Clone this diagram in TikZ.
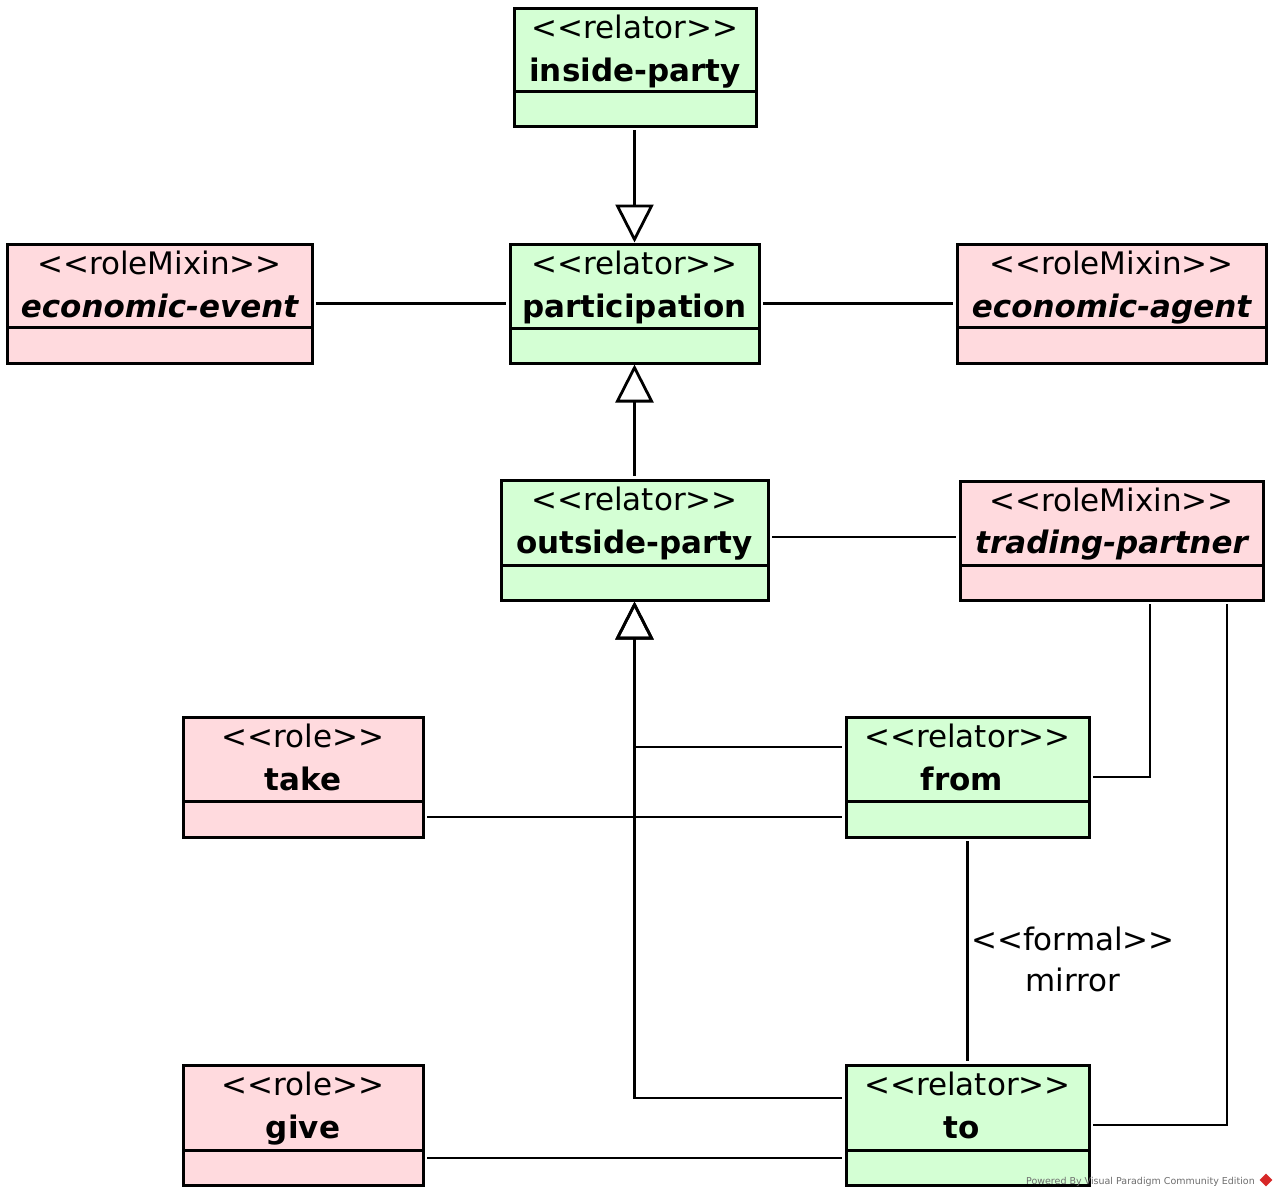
\documentclass[tikz,border=0pt]{standalone}
\usepackage{fontspec}
\setmainfont{DejaVu Sans}
\usetikzlibrary{arrows.meta,shapes.geometric}

\definecolor{relatorfill}{RGB}{212,255,212}
\definecolor{rolefill}{RGB}{255,218,222}
\definecolor{vpgray}{RGB}{110,110,110}
\definecolor{vpred}{RGB}{215,40,40}

% guillemet-style stereotype text built from angle brackets
\newcommand{\ster}[1]{<\kern0pt<#1>\kern0pt>}

\tikzset{
  classbox/.style={draw, line width=3pt, inner sep=0pt, outer sep=0pt, anchor=north west},
  relatorbox/.style={classbox, fill=relatorfill},
  rolebox/.style={classbox, fill=rolefill},
  stereotxt/.style={anchor=base, inner sep=0pt, font=\fontsize{31}{37}\selectfont},
  nametxt/.style={anchor=base, inner sep=0pt, font=\fontsize{31}{37}\selectfont\bfseries},
  mixintxt/.style={nametxt, font=\fontsize{31}{37}\selectfont\bfseries\itshape},
  link/.style={line width=2.8pt, shorten <=4pt, shorten >=4pt},
  genlink/.style={line width=2.8pt, shorten <=4pt, shorten >=1.5pt,
    -{Triangle[open, length=38pt, width=38pt, line width=2.8pt]}},
}

% #1 name, #2 box style, #3 x1, #4 y1, #5 x2, #6 y2, #7 divider y, #8 stereotype, #9 title (with its style)
\newcommand{\umlclass}[9]{%
  \node[#2, minimum width={#5-#3}, minimum height={#6-#4}] (#1) at (#3,#4) {};
  \draw[line width=3pt] (#3,#7) -- (#5,#7);
  \node[stereotxt] (#1-st) at ({(#3+#5)/2},{#4+30}) {\ster{#8}};
  \node #9;
}

\begin{document}
\begin{tikzpicture}[x=1pt, y=-1pt]
  \useasboundingbox[fill=white] (0,0) rectangle (1278,1197);

  % classes
  \umlclass{ip}{relatorbox}{514}{8}{756}{126}{91}{relator}
    {[nametxt] (ip-nm) at (635,81) {inside-party}}
  \umlclass{pa}{relatorbox}{510}{244}{759}{363}{328}{relator}
    {[nametxt] (pa-nm) at (634.5,317) {participation}}
  \umlclass{ee}{rolebox}{7}{244}{312}{363}{327}{roleMixin}
    {[mixintxt] (ee-nm) at (159.5,317) {economic-event}}
  \umlclass{ea}{rolebox}{957}{244}{1266}{363}{327}{roleMixin}
    {[mixintxt] (ea-nm) at (1111.5,317) {economic-agent}}
  \umlclass{op}{relatorbox}{501}{480}{768}{600}{565}{relator}
    {[nametxt] (op-nm) at (634.5,553) {outside-party}}
  \umlclass{tp}{rolebox}{960}{481}{1263}{600}{565}{roleMixin}
    {[mixintxt] (tp-nm) at (1111.5,553) {trading-partner}}
  \umlclass{tk}{rolebox}{183}{717}{423}{837}{801}{role}
    {[nametxt] (tk-nm) at (303,790) {take}}
  \umlclass{fr}{relatorbox}{846}{717}{1089}{837}{801}{relator}
    {[nametxt] (fr-nm) at (962,790) {from}}
  \umlclass{gv}{rolebox}{183}{1065}{423}{1185}{1150}{role}
    {[nametxt] (gv-nm) at (303,1138) {give}}
  \umlclass{to}{relatorbox}{846}{1065}{1089}{1185}{1150}{relator}
    {[nametxt] (to-nm) at (962,1138) {to}}

  % generalizations
  \draw[genlink] (pa.north |- ip.south) -- (pa.north);
  \draw[genlink] (op.north) -- (pa.south -| op.north);
  \draw[genlink] ([yshift=30pt]fr.west) -| (op.south);
  \draw[genlink] ([yshift=27pt]to.west) -| (op.south);

  % associations
  \draw[link] (ee.east) -- (pa.west);
  \draw[link] (pa.east) -- (ea.west);
  \draw[link] ([yshift=3pt]op.east) -- ([yshift=3pt]op.east -| tp.west);
  \draw[link] ([yshift=-40pt]tk.east) -- ([yshift=-40pt]fr.west);
  \draw[link] ([yshift=-33pt]gv.east) -- ([yshift=-33pt]to.west);
  \draw[link] (fr.east) -| ([xshift=38.5pt]tp.south);
  \draw[link] (to.east) -| ([xshift=115.5pt]tp.south);
  \draw[link] (fr.south) -- (to.north);

  % formal association label
  \node[align=center, inner sep=0pt, font=\fontsize{31}{41}\selectfont] (mirrorlbl)
    at (1073,959) {\ster{formal}\\mirror};

  % tool watermark
  \node[anchor=base east, inner sep=0pt, text=vpgray, font=\fontsize{9.5}{11}\selectfont] (wm)
    at (1255,1184) {Powered By Visual Paradigm Community Edition};
  \node[diamond, fill=vpred, minimum size=13pt, inner sep=0pt] (vplogo) at (1266,1180) {};
\end{tikzpicture}
\end{document}
